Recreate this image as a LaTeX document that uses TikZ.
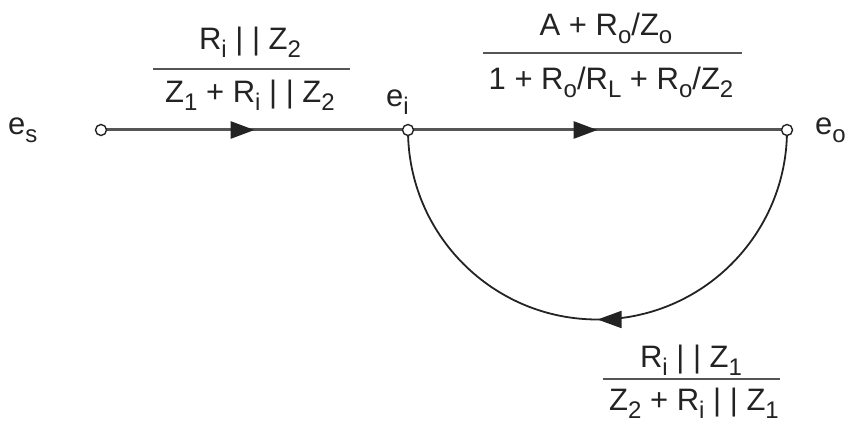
\documentclass[tikz,border=0pt]{standalone}
\usepackage{fontspec}
\setmainfont{Liberation Sans}
\usetikzlibrary{arrows.meta,decorations.markings}
\newcommand\sbx[1]{\raisebox{-8pt}{\fontsize{24}{24}\selectfont #1}}
\definecolor{ink}{RGB}{35,35,35}
\definecolor{wire}{RGB}{85,85,85}
\tikzset{
  x=1pt,y=-1pt,
  lbl/.style={inner sep=0pt,anchor=base,text=ink,font=\fontsize{31}{34}\selectfont},
  lblw/.style={lbl,anchor=base west},
  term/.style={circle,draw=ink,fill=white,line width=1.4pt,minimum size=11pt,inner sep=0pt},
  branch/.style={draw=wire,line width=3pt},
  loopb/.style={draw=ink,line width=1.8pt},
  midarrow/.style={postaction={decorate},decoration={markings,mark=at position 0.5 with {\arrow[ink]{Triangle[length=24pt,width=17pt]}}}},
  bar/.style={draw=wire,line width=2.8pt}
}
\begin{document}
\begin{tikzpicture}
\useasboundingbox (0,0) rectangle (845,422);
% terminals
\coordinate (esc) at (101,130);
\coordinate (eic) at (408,130);
\coordinate (eoc) at (787,130);
% branches
\path[branch,midarrow] (esc) -- (eic);
\path[branch,midarrow] (eic) -- (eoc);
\path[loopb,midarrow] (eoc) arc[start angle=0,end angle=180,radius=189.5];
\node[term] (es) at (esc) {};
\node[term] (ei) at (eic) {};
\node[term] (eo) at (eoc) {};
% node labels
\node[lblw] (les) at (8,135) {e\sbx{s}};
\node[lblw] (lei) at (386,107) {e\sbx{i}};
\node[lblw] (leo) at (815,135) {e\sbx{o}};
% fraction 1
\node[lbl] (n1) at (250,50) {R\sbx{i} | | Z\sbx{2}};
\draw[bar] (153,69) -- (350,69);
\node[lbl] (d1) at (250,103) {Z\sbx{1} + R\sbx{i} | | Z\sbx{2}};
% fraction 2
\node[lbl] (n2) at (606,36) {A + R\sbx{o}/Z\sbx{o}};
\draw[bar] (483,53) -- (742,53);
\node[lbl] (d2) at (611,90) {1 + R\sbx{o}/R\sbx{L} + R\sbx{o}/Z\sbx{2}};
% fraction 3
\node[lbl] (n3) at (691,367) {R\sbx{i} | | Z\sbx{1}};
\draw[bar] (603,379) -- (780,379);
\node[lbl] (d3) at (694,410) {Z\sbx{2} + R\sbx{i} | | Z\sbx{1}};
\end{tikzpicture}
\end{document}
